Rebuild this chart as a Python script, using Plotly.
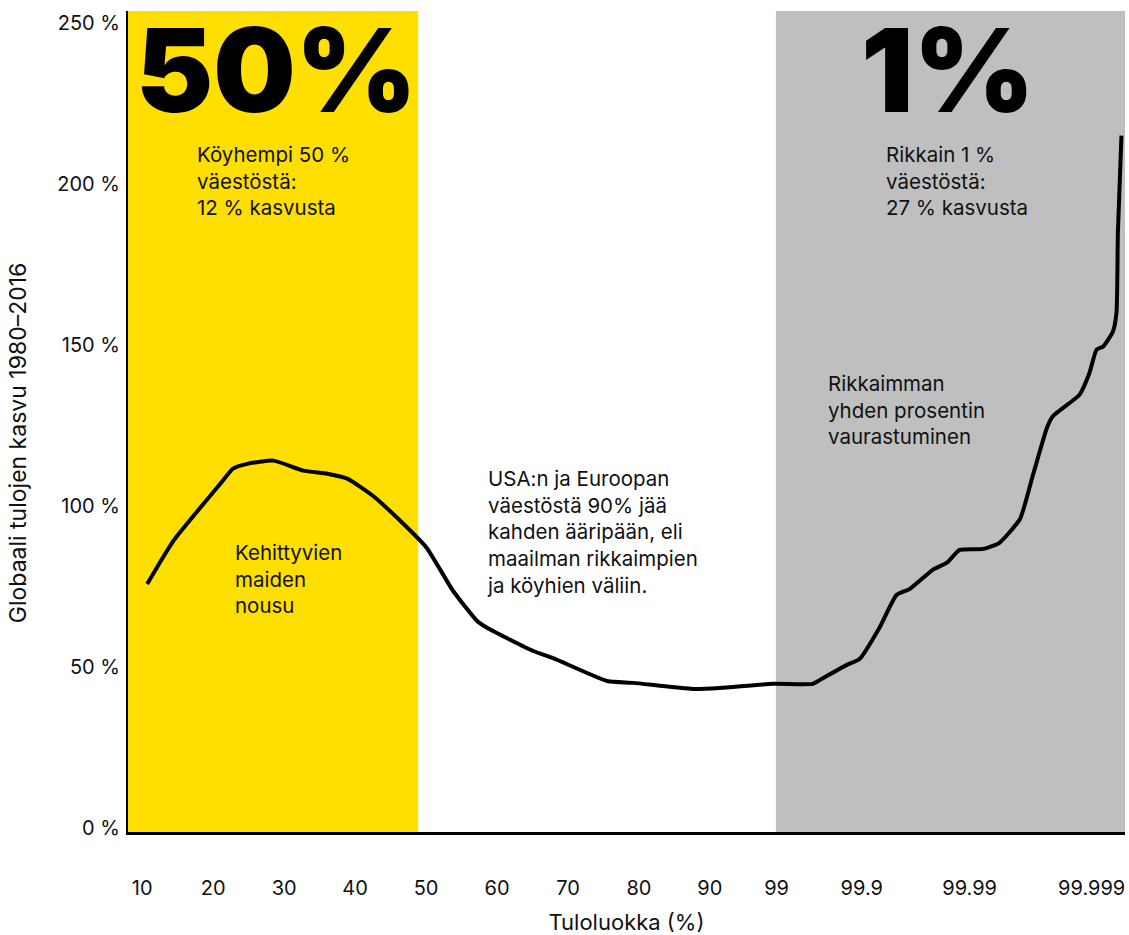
import plotly.graph_objects as go

# Curve: position on the income-group axis (tick "10" = 10 ... "90" = 90, top groups stretched) and growth %
rank_pos = [10.7, 14.4, 21.0, 22.8, 24.8, 28.5, 32.7, 36.1, 38.9, 42.5, 46.8, 50.1, 53.8, 57.2,
            58.6, 65.1, 67.9, 75.5, 79.2, 87.6, 91.4, 98.9, 104.5, 105.5, 109.3, 111.1, 113.9,
            116.3, 118.2, 121.4, 123.4, 125.2, 128.5, 130.8, 133.7, 135.5, 137.5, 138.3, 142.1,
            143.5, 144.5, 145.4, 146.8, 147.3, 147.5, 148.0]
growth = [75.8, 89.2, 106.9, 111.6, 113.1, 114.1, 111.0, 110.0, 108.5, 103.2, 94.5, 87.0, 73.7, 64.3,
          62.2, 55.0, 52.8, 45.7, 45.1, 43.2, 43.5, 44.8, 44.8, 46.0, 50.7, 52.5, 62.2,
          72.4, 74.3, 80.2, 82.4, 86.4, 86.7, 88.6, 96.0, 109.4, 124.3, 127.8, 134.6,
          141.4, 148.6, 149.5, 154.2, 160.0, 185.0, 215.0]

tick_labels = ["10", "20", "30", "40", "50", "60", "70", "80", "90", "99", "99.9", "99.99", "99.999"]
tick_pos = [10, 20, 30, 40, 50, 60, 70, 80, 90, 99.4, 111.4, 126.6, 143.8]
y_ticks = [0, 50, 100, 150, 200, 250]
y_tick_labels = ["0 %", "50 %", "100 %", "150 %", "200 %", "250 %"]

FONT = "Inter"
INK = "#111111"
YELLOW = "#FFDF00"
GREY = "#BFBFBF"

fig = go.Figure()
fig.add_trace(go.Scatter(x=rank_pos, y=growth, mode="lines",
                         line=dict(color="black", width=4, shape="spline", smoothing=0.5),
                         hoverinfo="skip", showlegend=False))

fig.add_shape(type="rect", xref="x", yref="paper", x0=8.0, x1=48.9, y0=0, y1=1,
              fillcolor=YELLOW, line_width=0, layer="below")
fig.add_shape(type="rect", xref="x", yref="paper", x0=99.3, x1=148.5, y0=0, y1=1,
              fillcolor=GREY, line_width=0, layer="below")

big = dict(family=FONT, size=116, color="black", weight=900)
fig.add_annotation(x=28.9, y=235.4, text="50%", showarrow=False, font=big,
                   xanchor="center", yanchor="middle")
fig.add_annotation(x=123.5, y=235.4, text="1%", showarrow=False, font=big,
                   xanchor="center", yanchor="middle")

body = dict(family=FONT, size=20.5, color=INK)
notes = [
    (17.5, 213.5, "Köyhempi 50 %<br>väestöstä:<br>12 % kasvusta"),
    (114.5, 213.5, "Rikkain 1 %<br>väestöstä:<br>27 % kasvusta"),
    (22.8, 90.2, "Kehittyvien<br>maiden<br>nousu"),
    (58.3, 113.2, "USA:n ja Euroopan<br>väestöstä 90% jää<br>kahden ääripään, eli<br>maailman rikkaimpien<br>ja köyhien väliin."),
    (106.3, 142.4, "Rikkaimman<br>yhden prosentin<br>vaurastuminen"),
]
for x, y, t in notes:
    fig.add_annotation(x=x, y=y, text=t, showarrow=False, font=body,
                       xanchor="left", yanchor="top", align="left")

fig.add_annotation(xref="paper", yref="paper", x=-0.110, y=0.474,
                   text="Globaali tulojen kasvu 1980–2016", textangle=-90,
                   showarrow=False, font=dict(family=FONT, size=23, color=INK),
                   xanchor="center", yanchor="middle")

fig.update_layout(
    width=1129, height=935,
    margin=dict(l=128, r=4, t=11, b=103),
    paper_bgcolor="white", plot_bgcolor="white",
    font=dict(family=FONT, size=20, color=INK),
    xaxis=dict(range=[8.0, 148.5], tickvals=tick_pos, ticktext=tick_labels, automargin=False,
               showgrid=False, zeroline=False, showline=True, linecolor="black", linewidth=3,
               ticks="", ticklabelstandoff=36, tickfont=dict(size=20),
               title=dict(text="Tuloluokka (%)", standoff=23, font=dict(size=22))),
    yaxis=dict(range=[-1.2, 253.7], tickvals=y_ticks, ticktext=y_tick_labels, automargin=False,
               showgrid=False, zeroline=False, showline=True, linecolor="black", linewidth=2,
               ticks="", ticklabelstandoff=2, tickfont=dict(size=20)),
)

fig.write_html("out.html", config={"displayModeBar": False},
               post_script="document.body.style.margin='0';")
